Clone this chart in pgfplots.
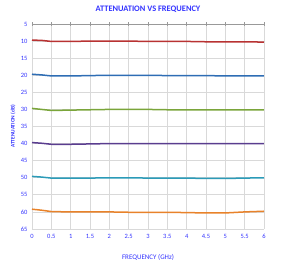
\documentclass[border=0pt]{standalone}
\usepackage{pgfplots}
\pgfplotsset{compat=1.18}
\usepackage{fontspec}
\setmainfont{Carlito}
\definecolor{tblue}{HTML}{3333FF}
\definecolor{gridgray}{HTML}{D9D9D9}
\definecolor{c1}{HTML}{B83232}
\definecolor{c2}{HTML}{2E6DB4}
\definecolor{c3}{HTML}{7AA53A}
\definecolor{c4}{HTML}{5A3D8F}
\definecolor{c5}{HTML}{2B9BB8}
\definecolor{c6}{HTML}{E8822A}
\begin{document}
\begin{tikzpicture}
\useasboundingbox (-32pt,-50pt) rectangle (260pt,229pt);
\begin{axis}[
  at={(0pt,0pt)}, anchor=south west,
  scale only axis, width=232pt, height=205pt,
  xmin=0, xmax=6, ymin=5, ymax=65, y dir=reverse,
  xtick={0,0.5,...,6}, ytick={5,10,...,65},
  xticklabels={0,0.5,1,1.5,2,2.5,3,3.5,4,4.5,5,5.5,6},
  grid=major, major grid style={gridgray, line width=0.8pt},
  axis line style={draw=none},
  xtick pos=bottom, ytick pos=left,
  major tick length=0pt,
  xticklabel style={font=\fontsize{6.5}{7}\selectfont, text=tblue, yshift=-2pt},
  yticklabel style={font=\fontsize{6.5}{7}\selectfont, text=tblue, xshift=-1pt},
  /pgf/number format/assume math mode=true,
  title={\bfseries ATTENUATION VS FREQUENCY},
  title style={font=\fontsize{8.4}{9}\selectfont, text=tblue, at={(0.5,1.043)}, anchor=center, yshift=0pt},
  xlabel={FREQUENCY (GHz)},
  xlabel style={font=\fontsize{7}{8}\selectfont, text=tblue, at={(0.5,-0.14)}, anchor=center, yshift=0pt},
  ylabel={\bfseries ATTENUATION (dB)},
  ylabel style={font=\fontsize{5.4}{6}\selectfont, text=tblue, at={(-0.082,0.5)}, anchor=center, yshift=0pt},
  every axis plot/.append style={line width=1.5pt, no marks},
  clip=false,
]
\draw[gray!80, line width=0.8pt] (axis cs:0,5) -- (axis cs:6,5);
\pgfplotsinvokeforeach{0,0.5,...,6}{\draw[gray!80, line width=0.6pt] (axis cs:#1,4.45) -- (axis cs:#1,5.55);}
\addplot[c1] coordinates {(0,9.7)(0.25,9.8)(0.5,10.1)(1,10.1)(1.5,10.0)(2,10.0)(2.5,10.0)(3,10.1)(3.5,10.1)(4,10.1)(4.5,10.2)(5,10.2)(5.5,10.2)(6,10.3)};
\addplot[c2] coordinates {(0,19.7)(0.25,19.9)(0.5,20.2)(1,20.2)(1.5,20.1)(2,20.0)(2.5,20.0)(3,20.0)(3.5,20.1)(4,20.1)(4.5,20.1)(5,20.2)(5.5,20.2)(6,20.2)};
\addplot[c3] coordinates {(0,29.7)(0.25,30.0)(0.5,30.3)(1,30.2)(1.5,30.1)(2,30.0)(2.5,30.0)(3,30.0)(3.5,30.1)(4,30.1)(4.5,30.1)(5,30.1)(5.5,30.1)(6,30.1)};
\addplot[c4] coordinates {(0,39.7)(0.25,39.9)(0.5,40.2)(1,40.2)(1.5,40.1)(2,40.0)(2.5,40.0)(3,40.0)(3.5,40.0)(4,40.0)(4.5,40.0)(5,40.0)(5.5,40.0)(6,40.0)};
\addplot[c5] coordinates {(0,49.6)(0.25,49.8)(0.5,50.1)(1,50.1)(1.5,50.1)(2,50.0)(2.5,50.0)(3,50.1)(3.5,50.1)(4,50.1)(4.5,50.2)(5,50.2)(5.5,50.1)(6,50.0)};
\addplot[c6] coordinates {(0,59.2)(0.25,59.5)(0.5,59.9)(1,60.0)(1.5,60.0)(2,60.0)(2.5,60.1)(3,60.1)(3.5,60.1)(4,60.2)(4.5,60.3)(5,60.3)(5.5,60.0)(6,59.8)};
\end{axis}
\end{tikzpicture}
\end{document}
